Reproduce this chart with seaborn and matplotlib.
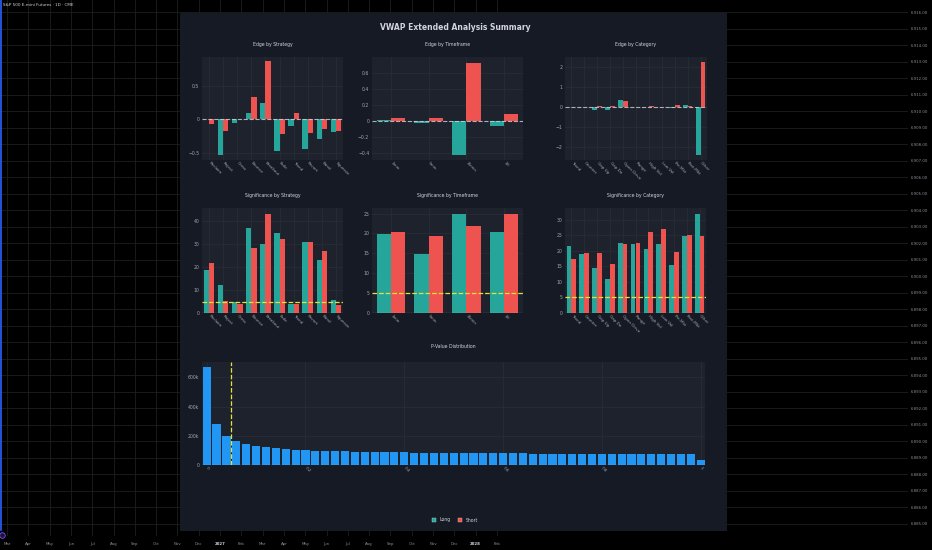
import numpy as np
import pandas as pd
import matplotlib
matplotlib.use("Agg")
import matplotlib.pyplot as plt
from matplotlib.patches import Patch
from matplotlib.lines import Line2D
from matplotlib.ticker import FuncFormatter
import seaborn as sns

W, H = 932, 550

# ---- data ----
strategies = ["Reclaim", "Reject", "Cross", "Bounce", "Breakout",
              "Fade", "Trend", "Revert", "Band", "Squeeze"]
edge_strat_long = [0.01, -0.53, -0.05, 0.09, 0.25, -0.47, -0.10, -0.45, -0.30, -0.19]
edge_strat_short = [-0.07, -0.17, 0.0, 0.33, 0.87, -0.22, 0.10, -0.21, -0.14, -0.18]
sig_strat_long = [19.0, 12.1, 4.9, 37.2, 30.0, 35.0, 3.8, 30.9, 23.2, 5.9]
sig_strat_short = [21.8, 5.4, 4.1, 28.4, 43.4, 32.2, 3.8, 30.9, 27.1, 3.5]

timeframes = ["1min", "5min", "15min", "1H"]
edge_tf_long = [0.005, -0.025, -0.425, -0.065]
edge_tf_short = [0.04, 0.04, 0.73, 0.09]
sig_tf_long = [19.9, 14.9, 25.0, 20.3]
sig_tf_short = [20.4, 19.3, 22.0, 24.9]

categories = ["Trend", "Counter", "Gap Up", "Gap Dn", "Open Drive", "Range",
              "High Vol", "Low Vol", "Pre-Mkt", "Post-Mkt", "Other"]
edge_cat_long = [0.02, 0.01, -0.15, -0.15, 0.37, 0.01, 0.02, 0.02, -0.03, 0.08, -2.38]
edge_cat_short = [0.02, 0.01, 0.07, 0.07, 0.30, 0.02, 0.07, 0.02, 0.08, 0.03, 2.25]
sig_cat_long = [21.4, 19.0, 14.6, 10.9, 22.5, 22.0, 20.4, 22.2, 15.5, 24.7, 31.9]
sig_cat_short = [17.3, 19.3, 19.2, 15.6, 22.1, 22.5, 26.0, 27.0, 19.5, 25.1, 24.8]

pval_bins = np.round(np.arange(51) * 0.02, 2)
pval_counts = [671, 282, 197, 163, 144, 133, 124, 117, 110, 105,
               101, 98, 96, 94, 93, 92, 90, 89, 88, 87,
               86, 85, 85, 84, 83, 82, 82, 81, 81, 80,
               80, 79, 79, 78, 78, 78, 77, 77, 77, 76,
               76, 76, 75, 75, 75, 75, 74, 74, 74, 74, 33]
pval_counts = [c * 1000 for c in pval_counts]

months = ["Mar", "Apr", "May", "Jun", "Jul", "Aug", "Sep", "Oct", "Nov", "Dec",
          "2027", "Feb", "Mar", "Apr", "May", "Jun", "Jul", "Aug", "Sep", "Oct",
          "Nov", "Dec", "2028", "Feb"]
prices = list(range(6885, 6917))

# ---- colours ----
LONG, SHORT, BLUE = "#26a69a", "#ef5350", "#2196f3"
PANEL, FACE, GRID = "#161a24", "#1e222d", "#2a2e39"
TXT, TICK = "#d1d4dc", "#a3a6af"
YEL = "#e6e233"
pal = {"Long": LONG, "Short": SHORT}


def px_rect(x0, y0, x1, y1):
    return [x0 / W, 1 - y1 / H, (x1 - x0) / W, (y1 - y0) / H]


def num_fmt(v, _):
    return f"{v:g}".replace("-", "\u2212")


def style(ax, title, ylim, yticks, fmt=num_fmt, pad=8):
    ax.set_facecolor(FACE)
    ax.set_ylim(*ylim)
    ax.set_yticks(yticks)
    ax.yaxis.set_major_formatter(FuncFormatter(fmt))
    ax.grid(True, color=GRID, lw=0.5)
    ax.set_axisbelow(True)
    for s in ax.spines.values():
        s.set_visible(False)
    ax.tick_params(length=0, labelsize=3.3, colors=TICK, pad=2)
    ax.set_xlabel("")
    ax.set_ylabel("")
    ax.set_title(title, fontsize=3.3, color=TXT, pad=pad)
    plt.setp(ax.get_xticklabels(), rotation=-45, ha="left", va="center",
             rotation_mode="anchor", fontsize=3)


def grouped(ax, cats, long_vals, short_vals):
    df = pd.DataFrame({
        "cat": cats + cats,
        "val": long_vals + short_vals,
        "side": ["Long"] * len(cats) + ["Short"] * len(cats),
    })
    sns.barplot(data=df, x="cat", y="val", hue="side", palette=pal, width=0.75,
                saturation=1, errorbar=None, legend=False, ax=ax)


fig = plt.figure(figsize=(W / 100, H / 100), dpi=100, facecolor="#000000")

# ---- background price pane ----
bg = fig.add_axes(px_rect(0, 0, 908, 536))
bg.set_facecolor("#000000")
bg.set_xlim(-7 / 21.3, 901 / 21.3)
bg.set_ylim(6916 + 12 / 16.516 - 536 / 16.516, 6916 + 12 / 16.516)
bg.set_xticks(range(len(months)))
bg.set_xticklabels(months)
bg.set_yticks(prices)
bg.yaxis.set_major_formatter(FuncFormatter(lambda v, _: f"{v:,.2f}"))
bg.yaxis.tick_right()
bg.tick_params(length=0, labelsize=2.8, colors="#8c8f96", pad=2)
bg.tick_params(axis="x", pad=4)
for lab in bg.get_xticklabels():
    if lab.get_text() in ("2027", "2028"):
        lab.set_color("#d1d4dc")
        lab.set_fontweight("bold")
bg.grid(True, color="#1e1e1e", lw=0.6)
for s in bg.spines.values():
    s.set_visible(False)

fig.add_artist(Line2D([1 / W, 1 / W], [1 - 530 / H, 1.0], color="#2962ff", lw=1.2))
fig.add_artist(Line2D([2 / W], [1 - 535 / H], marker="o", ms=4, mfc="#1a1530",
                      mec="#7b4dff", mew=0.6))
fig.text(3 / W, 1 - 5 / H, "S&P 500 E-mini Futures \u00b7 1D \u00b7 CME",
         fontsize=3, color=TXT, va="center", ha="left")

# ---- panel ----
panel = fig.add_axes(px_rect(180, 13, 727, 531))
panel.set_facecolor(PANEL)
panel.set_xticks([])
panel.set_yticks([])
for s in panel.spines.values():
    s.set_visible(False)

fig.text(455 / W, 1 - 27 / H, "VWAP Extended Analysis Summary",
         fontsize=5.5, fontweight="bold", color=TXT, ha="center", va="center")

# ---- edge row ----
ax = fig.add_axes(px_rect(202, 57, 343, 160))
grouped(ax, strategies, edge_strat_long, edge_strat_short)
ax.axhline(0, color=TXT, ls="--", lw=0.8, alpha=0.8)
style(ax, "Edge by Strategy", (-0.61, 0.935), [-0.5, 0, 0.5])

ax = fig.add_axes(px_rect(372, 57, 523, 160))
grouped(ax, timeframes, edge_tf_long, edge_tf_short)
ax.axhline(0, color=TXT, ls="--", lw=0.8, alpha=0.8)
style(ax, "Edge by Timeframe", (-0.49, 0.80), [-0.4, -0.2, 0, 0.2, 0.4, 0.6])

ax = fig.add_axes(px_rect(565, 57, 707, 160))
grouped(ax, categories, edge_cat_long, edge_cat_short)
ax.axhline(0, color=TXT, ls="--", lw=0.8, alpha=0.8)
style(ax, "Edge by Category", (-2.65, 2.5), [-2, -1, 0, 1, 2])

# ---- significance row ----
ax = fig.add_axes(px_rect(202, 208, 343, 313))
grouped(ax, strategies, sig_strat_long, sig_strat_short)
ax.axhline(5, color=YEL, ls="--", lw=0.9)
ax.axhline(0, color=TXT, lw=0.8)
style(ax, "Significance by Strategy", (0, 45.9), [0, 10, 20, 30, 40])

ax = fig.add_axes(px_rect(372, 208, 523, 313))
grouped(ax, timeframes, sig_tf_long, sig_tf_short)
ax.axhline(5, color=YEL, ls="--", lw=0.9)
ax.axhline(0, color=TXT, lw=0.8)
style(ax, "Significance by Timeframe", (0, 26.4), [0, 5, 10, 15, 20, 25])

ax = fig.add_axes(px_rect(565, 208, 706, 313))
grouped(ax, categories, sig_cat_long, sig_cat_short)
ax.axhline(5, color=YEL, ls="--", lw=0.9)
ax.axhline(0, color=TXT, lw=0.8)
style(ax, "Significance by Category", (0, 33.7), [0, 5, 10, 15, 20, 25, 30])

# ---- p-value distribution ----
ax = fig.add_axes(px_rect(202, 362, 705, 465))
ax.bar(pval_bins, pval_counts, width=0.0165, color=BLUE, zorder=2)
ax.axvline(0.05, color=YEL, ls="--", lw=0.9, zorder=3)
ax.axhline(0, color=TXT, lw=0.8, zorder=3)
ax.set_xlim(-0.0095, 1.0087)
ax.set_xticks([0, 0.2, 0.4, 0.6, 0.8, 1.0])
ax.set_xticklabels(["0", "0.2", "0.4", "0.6", "0.8", "1"])
style(ax, "P-Value Distribution", (0, 705000), [0, 200000, 400000, 600000],
      fmt=lambda v, _: "0" if v == 0 else f"{v / 1000:g}k", pad=10)

# ---- legend ----
fig.legend(handles=[Patch(facecolor=LONG, edgecolor="#9fe0d8", lw=0.3),
                    Patch(facecolor=SHORT, edgecolor="#f7a9a7", lw=0.3)],
           labels=["Long", "Short"], ncol=2, loc="center",
           bbox_to_anchor=(455 / W, 1 - 520 / H), frameon=False, fontsize=3.3,
           labelcolor=TXT, handlelength=0.9, handleheight=0.9,
           columnspacing=1.6, handletextpad=0.8)

fig.savefig("out.png", dpi=100, facecolor="#000000")
